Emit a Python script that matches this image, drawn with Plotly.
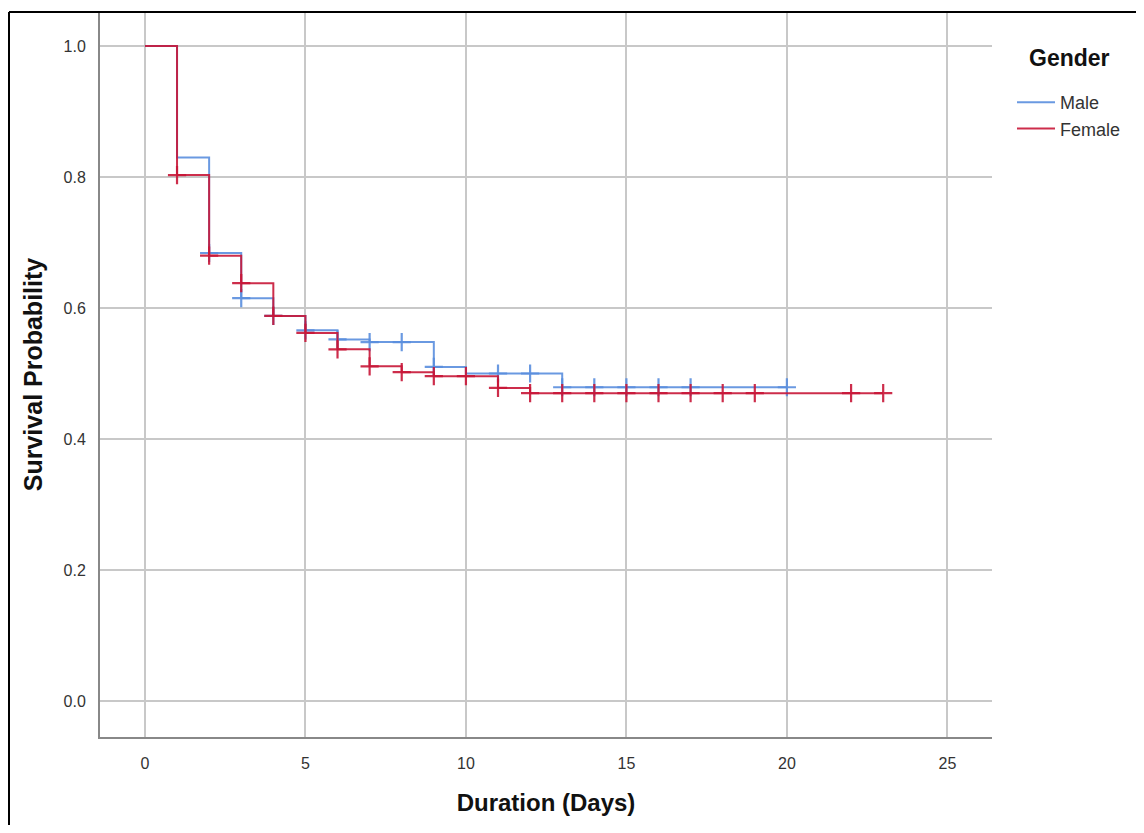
import plotly.graph_objects as go

# Kaplan-Meier step data
male_times = [0, 1, 2, 3, 4, 5, 6, 7, 9, 10, 13, 20]
male_surv = [1.0, 0.830, 0.684, 0.615, 0.588, 0.566, 0.552, 0.548, 0.510, 0.500, 0.479, 0.479]

female_times = [0, 1, 2, 3, 4, 5, 6, 7, 8, 9, 11, 12, 23]
female_surv = [1.0, 0.803, 0.680, 0.638, 0.588, 0.562, 0.537, 0.511, 0.502, 0.496, 0.478, 0.470, 0.470]

male_cens_times = [2, 3, 4, 5, 6, 7, 8, 9, 11, 12, 13, 14, 15, 16, 17, 20]
male_cens_surv = [0.684, 0.615, 0.588, 0.566, 0.552, 0.548, 0.548, 0.510, 0.500, 0.500,
                  0.479, 0.479, 0.479, 0.479, 0.479, 0.479]

female_cens_times = [1, 2, 3, 4, 5, 6, 7, 8, 9, 10, 11, 12, 13, 14, 15, 16, 17, 18, 19, 22, 23]
female_cens_surv = [0.803, 0.680, 0.638, 0.588, 0.562, 0.537, 0.511, 0.502, 0.496, 0.496, 0.478,
                    0.470, 0.470, 0.470, 0.470, 0.470, 0.470, 0.470, 0.470, 0.470, 0.470]

x_ticks = [0, 5, 10, 15, 20, 25]
y_ticks = [0.0, 0.2, 0.4, 0.6, 0.8, 1.0]
y_tick_labels = ["0.0", "0.2", "0.4", "0.6", "0.8", "1.0"]

BLUE = "rgba(90,142,222,0.9)"
RED = "rgba(200,22,55,0.9)"

# figure sized to fit inside the page's default 8px body margin
W, H = 1128, 817
ML, MT, MR, MB = 92, 4, 144, 88
PW, PH = W - ML - MR, H - MT - MB

fig = go.Figure()
fig.add_trace(go.Scatter(x=male_times, y=male_surv, mode="lines", line_shape="hv",
                         line=dict(color=BLUE, width=2), name="Male"))
fig.add_trace(go.Scatter(x=male_cens_times, y=male_cens_surv, mode="markers", showlegend=False,
                         marker=dict(symbol="cross-thin", size=13, line=dict(color=BLUE, width=2.2))))
fig.add_trace(go.Scatter(x=female_times, y=female_surv, mode="lines", line_shape="hv",
                         line=dict(color=RED, width=2), name="Female"))
fig.add_trace(go.Scatter(x=female_cens_times, y=female_cens_surv, mode="markers", showlegend=False,
                         marker=dict(symbol="cross-thin", size=13, line=dict(color=RED, width=2.2))))

fig.update_layout(
    width=W, height=H,
    margin=dict(l=ML, r=MR, t=MT, b=MB),
    paper_bgcolor="white", plot_bgcolor="white",
    font=dict(family="Liberation Sans, Arial, sans-serif", color="#222"),
    legend=dict(x=1 + 20 / PW, y=1 - 72 / PH, xanchor="left", yanchor="top",
                font=dict(size=18, color="#333"), itemwidth=38, tracegroupgap=0),
    xaxis=dict(range=[-1.40, 26.39], tickvals=x_ticks, showgrid=True, gridcolor="#c8c8c8",
               gridwidth=1.5, zeroline=False, showline=True, linecolor="#888", linewidth=2,
               tickfont=dict(size=16, color="#333"), ticks="", ticklabelstandoff=11,
               title=dict(text="<b>Duration (Days)</b>", font=dict(size=24, color="#111"), standoff=23)),
    yaxis=dict(range=[-0.055, 1.052], tickvals=y_ticks, ticktext=y_tick_labels, showgrid=True,
               gridcolor="#c8c8c8", gridwidth=1.5, zeroline=False, showline=True, linecolor="#888",
               linewidth=2, tickfont=dict(size=16, color="#333"), ticks="", ticklabelstandoff=9,
               title=dict(text="<b>Survival Probability</b>", font=dict(size=25, color="#111"), standoff=14)),
)

# legend title as annotation
fig.add_annotation(text="<b>Gender</b>", xref="paper", yref="paper", showarrow=False,
                   x=1 + (1061 - ML - PW) / PW, y=1 - (50 - MT) / PH, xanchor="center", yanchor="middle",
                   font=dict(size=23, color="#111"))

# outer frame (left and top edges visible in the reference)
fig.add_shape(type="line", xref="paper", yref="paper", x0=-91 / PW, x1=-91 / PW, y0=1, y1=-MB / PH - 0.02,
              line=dict(color="black", width=2))
fig.add_shape(type="line", xref="paper", yref="paper", x0=-91 / PW, x1=(W - ML + 10) / PW, y0=1, y1=1,
              line=dict(color="black", width=2))

fig.write_html("out.html")
